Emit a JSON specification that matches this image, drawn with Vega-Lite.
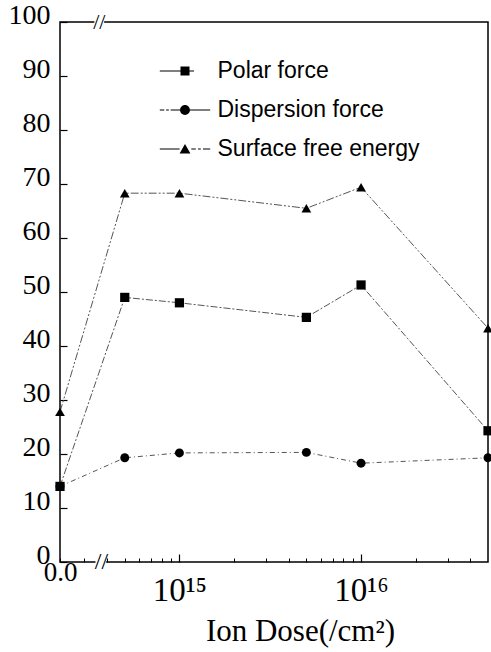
{
  "$schema": "https://vega.github.io/schema/vega-lite/v6.json",
  "width": 428,
  "height": 540,
  "autosize": {"type": "none"},
  "padding": {"left": 60, "top": 22, "right": 3, "bottom": 90},
  "background": "white",
  "config": {
    "view": {"stroke": "black", "strokeWidth": 1.5},
    "axis": {"grid": false, "domain": false, "labelColor": "black", "titleColor": "black", "labelFont": "Liberation Serif", "titleFont": "Liberation Serif"},
    "legend": {
      "orient": "none", "legendX": 113.5, "legendY": 37.5, "title": null,
      "labelFont": "Liberation Sans", "labelFontSize": 23, "labelColor": "black", "labelLimit": 400,
      "symbolSize": 81, "symbolStrokeWidth": 0, "symbolFillColor": "black", "symbolOpacity": 1,
      "labelOffset": 21, "rowPadding": 15, "padding": 0
    }
  },
  "data": {
    "values": [
      {"series": "Polar force", "dose": 0, "value": 14},
      {"series": "Polar force", "dose": 5e14, "value": 49},
      {"series": "Polar force", "dose": 1e15, "value": 48},
      {"series": "Polar force", "dose": 5e15, "value": 45.3},
      {"series": "Polar force", "dose": 1e16, "value": 51.3},
      {"series": "Polar force", "dose": 5e16, "value": 24.3},
      {"series": "Dispersion force", "dose": 0, "value": 14},
      {"series": "Dispersion force", "dose": 5e14, "value": 19.3},
      {"series": "Dispersion force", "dose": 1e15, "value": 20.2},
      {"series": "Dispersion force", "dose": 5e15, "value": 20.3},
      {"series": "Dispersion force", "dose": 1e16, "value": 18.3},
      {"series": "Dispersion force", "dose": 5e16, "value": 19.3},
      {"series": "Surface free energy", "dose": 0, "value": 27.8},
      {"series": "Surface free energy", "dose": 5e14, "value": 68.3},
      {"series": "Surface free energy", "dose": 1e15, "value": 68.3},
      {"series": "Surface free energy", "dose": 5e15, "value": 65.5},
      {"series": "Surface free energy", "dose": 1e16, "value": 69.4},
      {"series": "Surface free energy", "dose": 5e16, "value": 43.3}
    ]
  },
  "resolve": {"axis": {"x": "independent", "y": "independent"}},
  "layer": [
    {
      "transform": [{"filter": "datum.series === 'Polar force'"}],
      "mark": {"type": "line", "color": "#555555", "strokeWidth": 1, "strokeDash": [7, 2, 2, 2], "invalid": null},
      "encoding": {
        "x": {
          "field": "dose", "type": "quantitative",
          "scale": {"type": "log", "domain": [2.2e14, 5e16], "nice": false, "clamp": true},
          "axis": {"orient": "bottom", "values": [2.2e14, 3e14, 4e14, 5e14, 6e14, 7e14, 8e14, 9e14, 2e15, 3e15, 4e15, 5e15, 6e15, 7e15, 8e15, 9e15, 2e16, 3e16, 4e16], "labelExpr": "datum.value < 2.5e14 ? '0.0' : ''", "ticks": true, "tickColor": "black", "tickOpacity": 1, "offset": -4, "tickSize": 4, "tickWidth": 1, "labelFontSize": 27, "labelBaseline": "alphabetic", "labelPadding": 18, "labelFlush": false, "labelOverlap": false, "title": "Ion Dose(/cm²)", "titleFontSize": 31, "titleFontWeight": "normal", "titleX": 240, "titleY": 82, "titleAlign": "center", "titleBaseline": "alphabetic"}
        },
        "y": {
          "field": "value", "type": "quantitative",
          "scale": {"domain": [0, 100], "nice": false},
          "axis": {"orient": "left", "values": [0, 10, 20, 30, 40, 50, 60, 70, 80, 90, 100], "ticks": true, "tickColor": "black", "tickOpacity": 1, "offset": -7, "tickSize": 7, "tickWidth": 1.2, "labelFontSize": 28, "labelPadding": 10, "labelBaseline": "middle", "labelOffset": -7, "labelFlush": false, "labelOverlap": false, "title": null}
        }
      }
    },
    {
      "transform": [{"filter": "datum.series === 'Dispersion force'"}],
      "mark": {"type": "line", "color": "#555555", "strokeWidth": 1, "strokeDash": [5, 3, 1, 3], "invalid": null},
      "encoding": {
        "x": {
          "field": "dose", "type": "quantitative",
          "axis": {"orient": "bottom", "values": [1e15, 1e16], "labelExpr": "datum.value < 5e15 ? '10¹⁵' : '10¹⁶'", "ticks": true, "tickColor": "black", "tickOpacity": 1, "offset": -8, "tickSize": 8, "tickWidth": 1.2, "labelFontSize": 33, "labelBaseline": "top", "labelPadding": 12, "labelFlush": false, "labelOverlap": false, "title": null}
        },
        "y": {"field": "value", "type": "quantitative", "axis": null}
      }
    },
    {
      "transform": [{"filter": "datum.series === 'Surface free energy'"}],
      "mark": {"type": "line", "color": "#555555", "strokeWidth": 1, "strokeDash": [8, 2, 2, 2, 2, 2], "invalid": null},
      "encoding": {
        "x": {"field": "dose", "type": "quantitative", "axis": null},
        "y": {"field": "value", "type": "quantitative", "axis": null}
      }
    },
    {
      "transform": [{"filter": "datum.series === 'Polar force'"}],
      "mark": {"type": "point", "shape": "square", "filled": true, "color": "black", "opacity": 1, "size": 85, "invalid": null},
      "encoding": {
        "x": {"field": "dose", "type": "quantitative", "axis": null},
        "y": {"field": "value", "type": "quantitative", "axis": null}
      }
    },
    {
      "transform": [{"filter": "datum.series === 'Dispersion force'"}],
      "mark": {"type": "point", "shape": "circle", "filled": true, "color": "black", "opacity": 1, "size": 80, "invalid": null},
      "encoding": {
        "x": {"field": "dose", "type": "quantitative", "axis": null},
        "y": {"field": "value", "type": "quantitative", "axis": null}
      }
    },
    {
      "transform": [{"filter": "datum.series === 'Surface free energy'"}],
      "mark": {"type": "point", "shape": "triangle-up", "filled": true, "color": "black", "opacity": 1, "size": 95, "invalid": null},
      "encoding": {
        "x": {"field": "dose", "type": "quantitative", "axis": null},
        "y": {"field": "value", "type": "quantitative", "axis": null}
      }
    },
    {
      "transform": [{"filter": "datum.value < 0"}],
      "mark": {"type": "point", "filled": true, "color": "black", "opacity": 1},
      "encoding": {
        "shape": {
          "field": "series", "type": "nominal",
          "scale": {
            "domain": ["Polar force", "Dispersion force", "Surface free energy"],
            "range": [
              "M-5.6,-0.12H-1V0.12H-5.6Z M-1,-1H1V1H-1Z M1,-0.12H2V0.12H1Z",
              "M-5.6,-0.12H-4.6V0.12H-5.6Z M-4.2,-0.12H-3.6V0.12H-4.2Z M-3.2,-0.12H-1.1V0.12H-3.2Z M-1.1,0A1.1,1.1 0 1,1 1.1,0A1.1,1.1 0 1,1 -1.1,0Z M1.1,-0.12H5.6V0.12H1.1Z",
              "M-5.6,-0.12H-1.2V0.12H-5.6Z M0,-1.1L1.2,1H-1.2Z M1.4,-0.12H2.4V0.12H1.4Z M2.9,-0.12H3.5V0.12H2.9Z M4,-0.12H5.6V0.12H4Z"
            ]
          }
        }
      }
    },
    {
      "data": {"values": [{}]},
      "mark": {"type": "rule", "color": "white", "strokeWidth": 4},
      "encoding": {
        "x": {"datum": 3.45e14, "type": "quantitative", "axis": null},
        "x2": {"datum": 3.95e14},
        "y": {"datum": 0, "type": "quantitative", "axis": null}
      }
    },
    {
      "data": {"values": [{}]},
      "mark": {"type": "rule", "color": "white", "strokeWidth": 4},
      "encoding": {
        "x": {"datum": 3.4e14, "type": "quantitative", "axis": null},
        "x2": {"datum": 3.85e14},
        "y": {"datum": 100, "type": "quantitative", "axis": null}
      }
    },
    {
      "data": {"values": [{}]},
      "mark": {"type": "text", "text": "//", "font": "Liberation Serif", "fontSize": 24, "baseline": "middle", "align": "center", "color": "black"},
      "encoding": {
        "x": {"datum": 3.72e14, "type": "quantitative", "axis": null},
        "y": {"datum": 0, "type": "quantitative", "axis": null}
      }
    },
    {
      "data": {"values": [{}]},
      "mark": {"type": "text", "text": "//", "font": "Liberation Serif", "fontSize": 22, "baseline": "middle", "align": "center", "color": "black"},
      "encoding": {
        "x": {"datum": 3.62e14, "type": "quantitative", "axis": null},
        "y": {"datum": 100, "type": "quantitative", "axis": null}
      }
    }
  ]
}
